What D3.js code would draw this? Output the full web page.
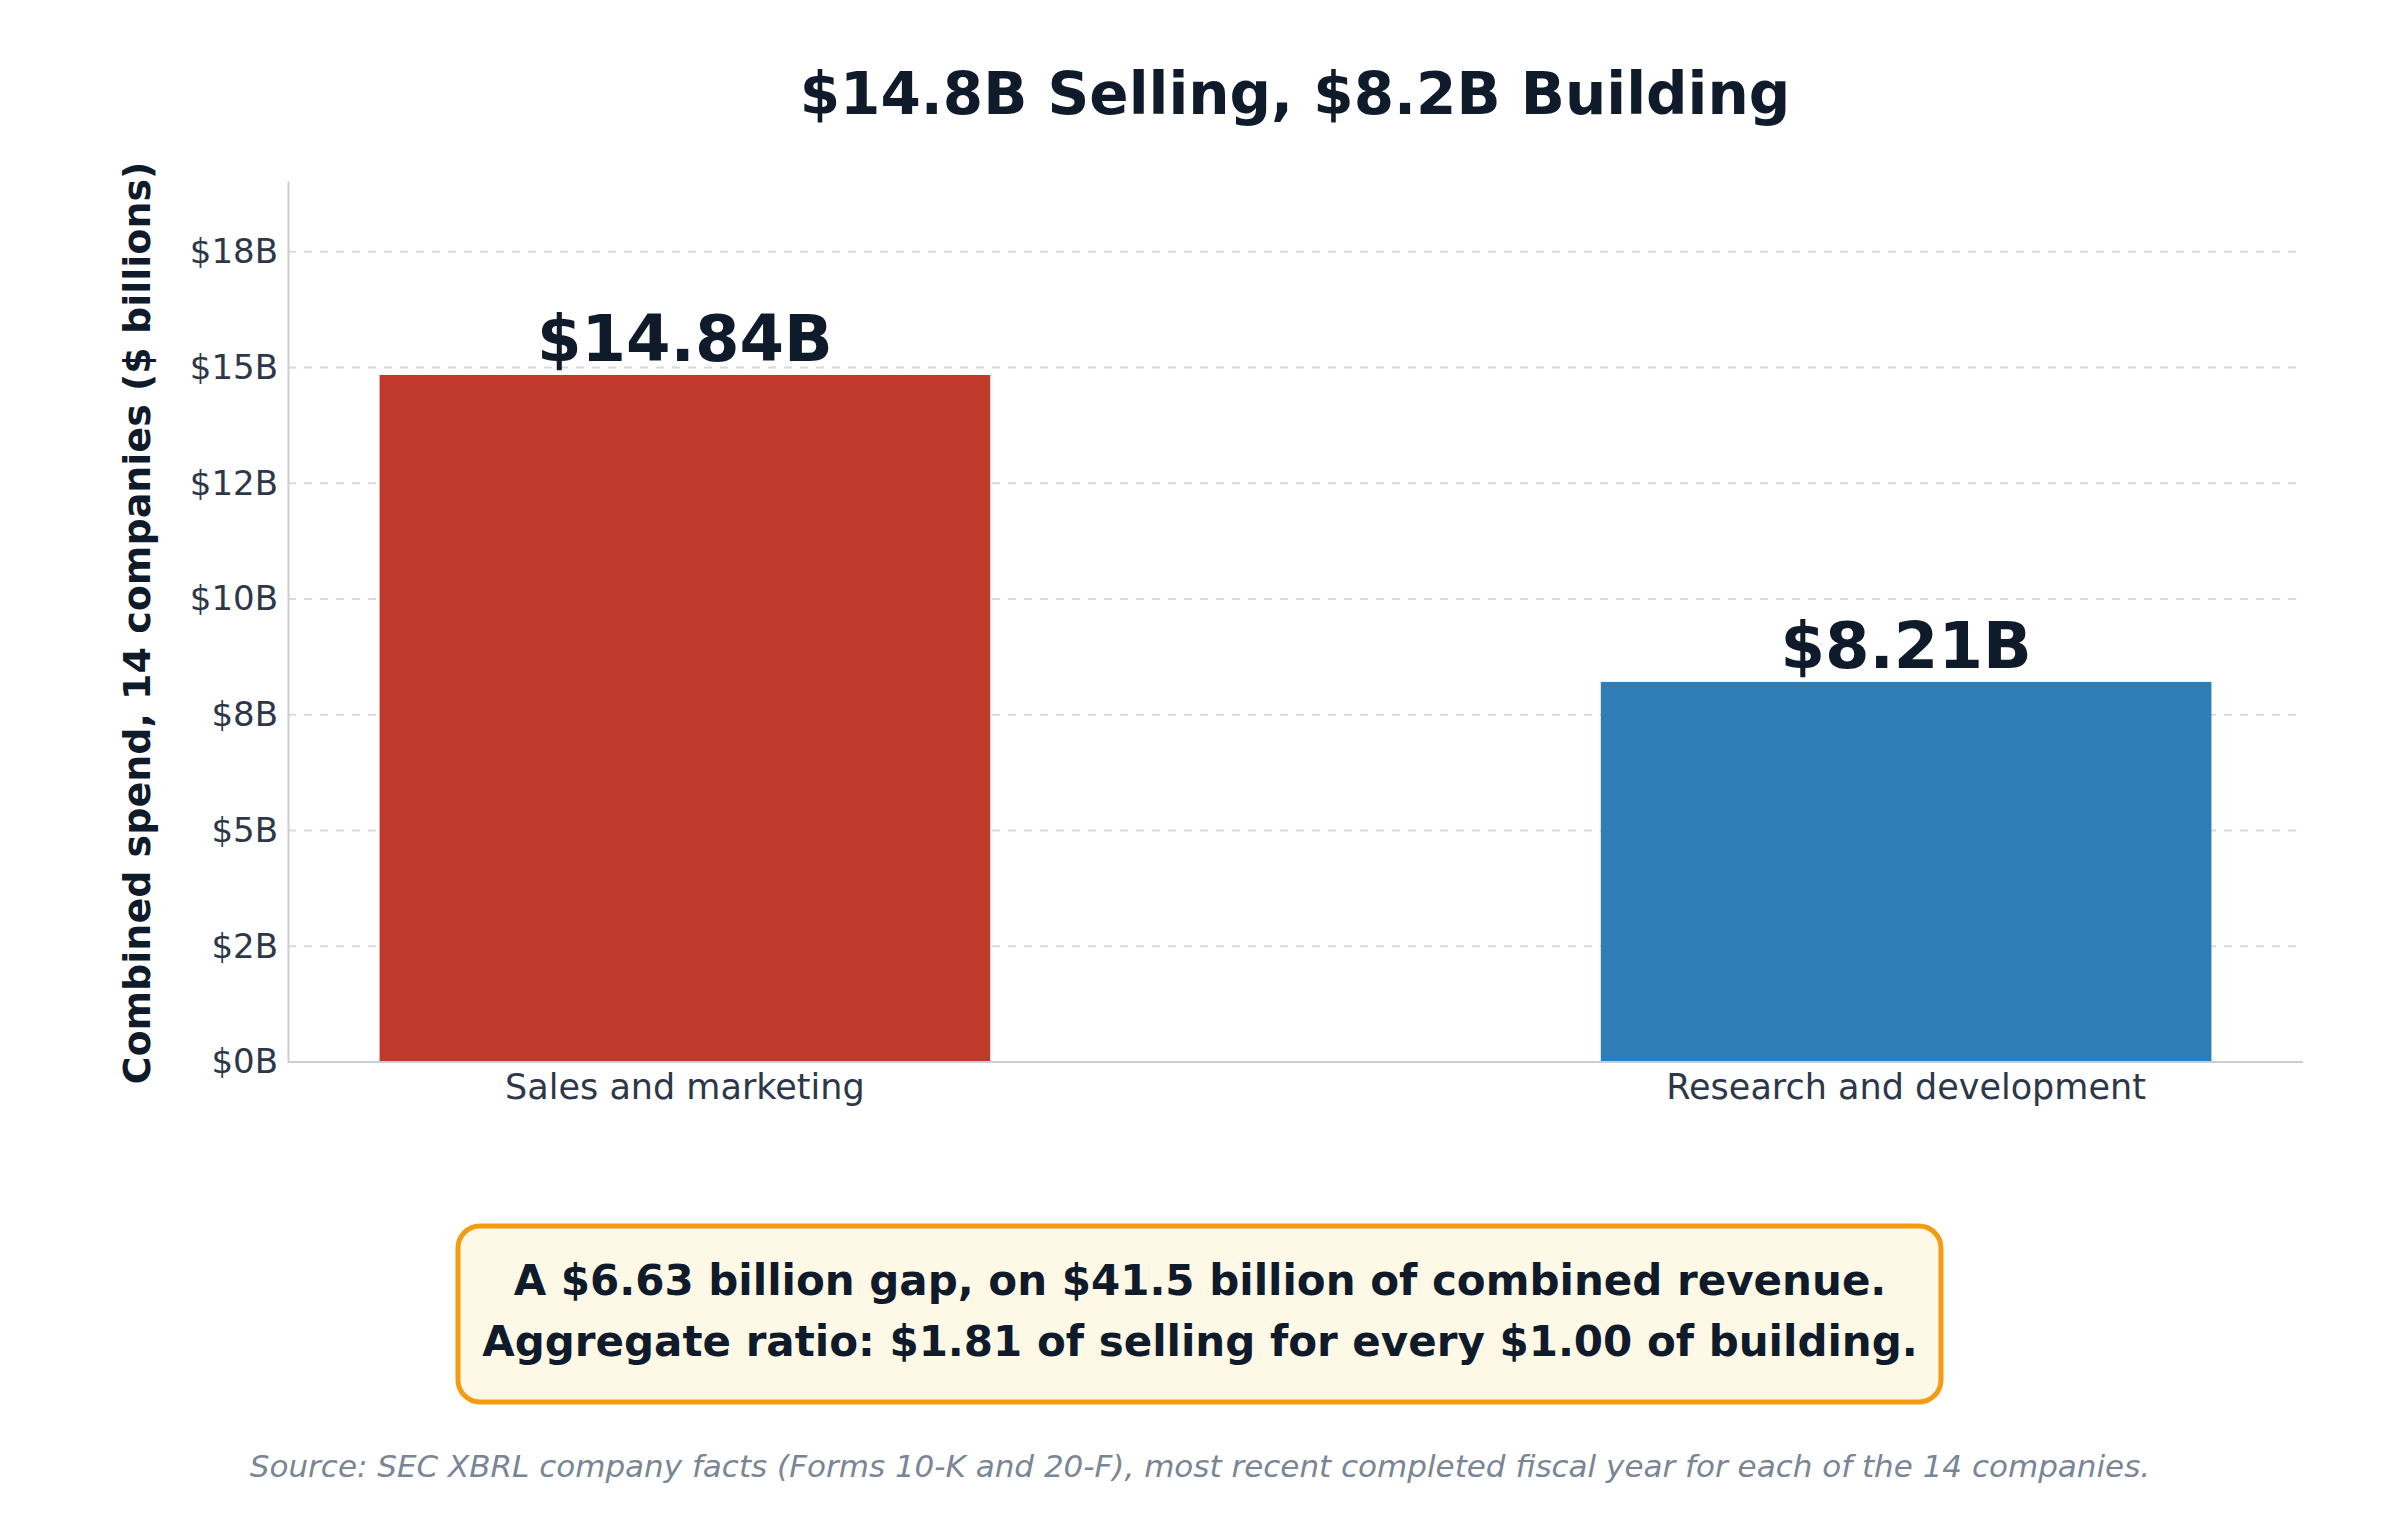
<!DOCTYPE html>
<html><head><meta charset="utf-8">
<script src="https://cdn.jsdelivr.net/npm/d3@7"></script>
<style>body{margin:0;background:#fff}svg{font-family:"DejaVu Sans",sans-serif}</style>
</head><body><svg id="c" width="2400" height="1520"></svg>
<script>
const categories = ["Sales and marketing", "Research and development"];
const values = [14.84, 8.21];
const valueLabels = ["$14.84B", "$8.21B"];
const colors = ["#c0392b", "#2e7db7"];
const tickValues = [0, 2.5, 5, 7.5, 10, 12.5, 15, 17.5];
const tickLabels = ["$0B", "$2B", "$5B", "$8B", "$10B", "$12B", "$15B", "$18B"];
const noteLines = ["A $6.63 billion gap, on $41.5 billion of combined revenue.",
  "Aggregate ratio: $1.81 of selling for every $1.00 of building."];
const source = "Source: SEC XBRL company facts (Forms 10-K and 20-F), most recent completed fiscal year for each of the 14 companies.";

const svg = d3.select("#c");
const L = 288, R = 2303, T = 181, B = 1062;
const x = d3.scaleBand().domain(categories).range([L, R]).paddingInner(0.5).paddingOuter(0.075);
const y = d3.scaleLinear().domain([0, 19.03]).range([B, T]);

svg.append("g").selectAll("line").data(tickValues.slice(1)).join("line")
  .attr("x1", L).attr("x2", R).attr("y1", d => y(d)).attr("y2", d => y(d))
  .attr("stroke", "#d5d9e0").attr("stroke-width", 2).attr("stroke-dasharray", "8,8");

svg.selectAll("rect.bar").data(categories).join("rect").attr("class", "bar")
  .attr("x", d => x(d)).attr("width", x.bandwidth())
  .attr("y", (d, i) => y(values[i])).attr("height", (d, i) => B - y(values[i]))
  .attr("fill", (d, i) => colors[i]);

svg.selectAll("text.val").data(categories).join("text").attr("class", "val")
  .attr("x", d => x(d) + x.bandwidth() / 2).attr("y", (d, i) => y(values[i]) - 14)
  .attr("text-anchor", "middle").attr("font-size", 64).attr("font-weight", "bold").attr("fill", "#0f1b2a")
  .text((d, i) => valueLabels[i]);

const ya = svg.append("g").attr("transform", `translate(${L},0)`)
  .call(d3.axisLeft(y).tickValues(tickValues).tickFormat((d, i) => tickLabels[i]).tickSize(0).tickPadding(10));
ya.select(".domain").attr("stroke", "#c8ced8").attr("stroke-width", 2);
ya.selectAll("text").attr("font-size", 34).attr("fill", "#2d3748").attr("font-family", "DejaVu Sans");

const xa = svg.append("g").attr("transform", `translate(0,${B})`)
  .call(d3.axisBottom(x).tickSize(0).tickPadding(12));
xa.select(".domain").attr("stroke", "#c8ced8").attr("stroke-width", 2).attr("d", `M${L},0H${R}`);
xa.selectAll("text").attr("font-size", 35).attr("fill", "#2d3748").attr("font-family", "DejaVu Sans");

svg.append("text").attr("x", 1295).attr("y", 114).attr("text-anchor", "middle")
  .attr("font-size", 58).attr("font-weight", "bold").attr("fill", "#0f1b2a").text("$14.8B Selling, $8.2B Building");

svg.append("text").attr("transform", "translate(150,623) rotate(-90)").attr("text-anchor", "middle")
  .attr("font-size", 38).attr("font-weight", "bold").attr("fill", "#0f1b2a")
  .text("Combined spend, 14 companies ($ billions)");

svg.append("rect").attr("x", 458).attr("y", 1226).attr("width", 1483).attr("height", 176).attr("rx", 22)
  .attr("fill", "#fef8e7").attr("stroke", "#f39c12").attr("stroke-width", 5);
svg.selectAll("text.note").data(noteLines).join("text").attr("class", "note")
  .attr("x", 1200).attr("y", (d, i) => 1295 + i * 61).attr("text-anchor", "middle")
  .attr("font-size", 42).attr("font-weight", "bold").attr("fill", "#0f1b2a").text(d => d);

svg.append("text").attr("x", 1200).attr("y", 1477).attr("text-anchor", "middle")
  .attr("font-size", 31).attr("font-style", "italic").attr("fill", "#7a8595").text(source);
</script></body></html>
